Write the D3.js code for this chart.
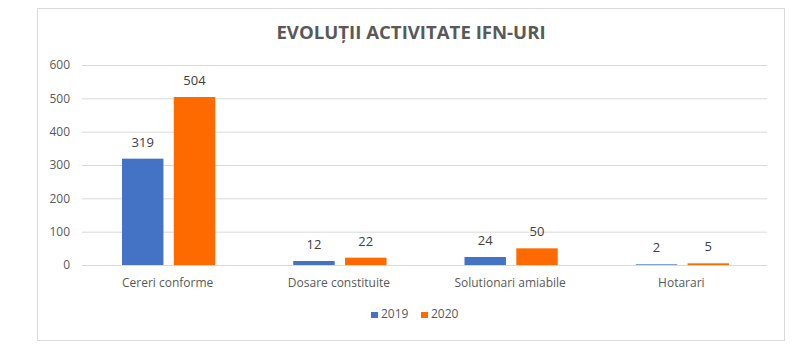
<!DOCTYPE html>
<html>
<head>
<meta charset="utf-8">
<script src="https://cdn.jsdelivr.net/npm/d3@7"></script>
<style>
  body { margin: 0; background: #fff; }
  text { font-family: "Open Sans", "Liberation Sans", sans-serif; }
</style>
</head>
<body>
<div id="chart"></div>
<script>
// Chart data
const categories = ["Cereri conforme", "Dosare constituite", "Solutionari amiabile", "Hotarari"];
const seriesNames = ["2019", "2020"];
const values2019 = [319, 12, 24, 2];
const values2020 = [504, 22, 50, 5];
const yTicks = [0, 100, 200, 300, 400, 500, 600];

const seriesColors = { "2019": "#4472C4", "2020": "#FF6A00" };

const width = 809, height = 351;
const margin = { top: 65, right: 42, bottom: 86, left: 82 };
const innerW = width - margin.left - margin.right;
const innerH = height - margin.top - margin.bottom;

const svg = d3.select("#chart").append("svg")
    .attr("width", width)
    .attr("height", height);

// chart border
svg.append("rect")
    .attr("x", 37.5).attr("y", 8.5)
    .attr("width", 747).attr("height", 332)
    .attr("fill", "#fff")
    .attr("stroke", "#d9d9d9");

// Title
svg.append("text")
    .attr("x", 411).attr("y", 39)
    .attr("text-anchor", "middle")
    .style("font-size", "18.6px")
    .style("font-weight", "bold")
    .style("fill", "#595959")
    .text("EVOLUȚII ACTIVITATE IFN-URI");

const g = svg.append("g").attr("transform", `translate(${margin.left},${margin.top})`);

const x = d3.scaleBand().domain(categories).range([0, innerW]);
const x1 = d3.scaleBand().domain(seriesNames).range([40, x.bandwidth() - 38]).paddingInner(0.2);
const y = d3.scaleLinear().domain([0, 600]).range([innerH, 0]);

// gridlines
g.append("g")
    .call(d3.axisLeft(y).tickValues(yTicks).tickSize(-innerW).tickFormat(""))
    .call(s => s.select(".domain").remove())
    .call(s => s.selectAll("line").attr("stroke", "#d9d9d9"));

// y axis labels
g.append("g")
    .call(d3.axisLeft(y).tickValues(yTicks).tickSize(0).tickPadding(12))
    .call(s => s.select(".domain").remove())
    .call(s => s.selectAll("text").style("font-size", "12px").style("fill", "#595959"));

// x axis labels
g.append("g")
    .attr("transform", `translate(0,${innerH})`)
    .call(d3.axisBottom(x).tickSize(0).tickPadding(13))
    .call(s => s.select(".domain").remove())
    .call(s => s.selectAll("text").style("font-size", "12px").style("fill", "#595959"));

const rows = categories.map((c, i) => ({
    category: c,
    vals: [{ key: "2019", value: values2019[i] }, { key: "2020", value: values2020[i] }]
}));

const groups = g.selectAll(".grp")
    .data(rows)
    .enter().append("g")
    .attr("transform", d => `translate(${x(d.category)},0)`);

groups.selectAll("rect")
    .data(d => d.vals)
    .enter().append("rect")
    .attr("x", d => x1(d.key))
    .attr("y", d => y(d.value))
    .attr("width", x1.bandwidth())
    .attr("height", d => innerH - y(d.value))
    .style("fill", d => seriesColors[d.key]);

groups.selectAll(".label")
    .data(d => d.vals)
    .enter().append("text")
    .attr("x", d => x1(d.key) + x1.bandwidth() / 2)
    .attr("y", d => y(d.value) - 12)
    .attr("text-anchor", "middle")
    .style("font-size", "13px")
    .style("fill", "#404040")
    .text(d => d.value);

// Legend
const legend = svg.append("g").attr("transform", "translate(371,318)");
const legendX = [0, 50];
seriesNames.forEach((s, i) => {
    legend.append("rect")
        .attr("x", legendX[i]).attr("y", -6)
        .attr("width", 7).attr("height", 6)
        .style("fill", seriesColors[s]);
    legend.append("text")
        .attr("x", legendX[i] + 10).attr("y", 0)
        .style("font-size", "12px")
        .style("fill", "#595959")
        .text(s);
});
</script>
</body>
</html>
